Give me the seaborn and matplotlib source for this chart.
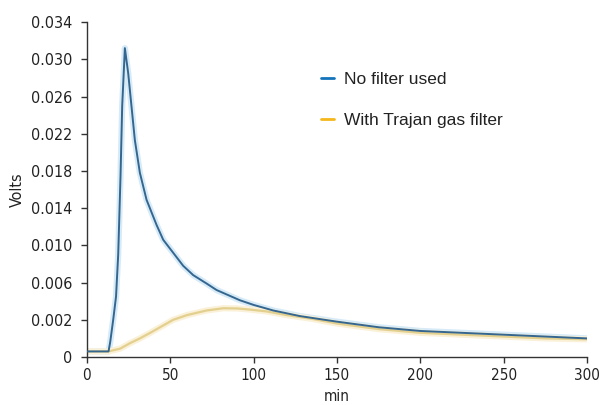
import numpy as np
import pandas as pd
import matplotlib
matplotlib.use("Agg")
import matplotlib.pyplot as plt
from matplotlib.lines import Line2D
import seaborn as sns

# values (minutes, volts)
t_nofilter = [0, 13, 14, 15.8, 17.5, 18.8, 20.2, 21.2, 22.8, 24.8, 26.8, 28.8,
              31.8, 35.8, 41.8, 45.8, 51.8, 57.8, 63.8, 71.8, 77.8, 91.8, 100,
              111.8, 127.8, 150, 175, 200, 225, 250, 275, 300]
v_nofilter = [0.0003, 0.0003, 0.0008, 0.002, 0.0045, 0.009, 0.0175, 0.025,
              0.0312, 0.0285, 0.0249, 0.0213, 0.0178, 0.0149, 0.0122, 0.0106,
              0.0092, 0.0078, 0.0068, 0.0059, 0.0052, 0.0041, 0.0036, 0.003,
              0.0024, 0.0019, 0.0016, 0.0014, 0.0013, 0.0012, 0.0011, 0.001]

t_filter = [0, 13, 20, 26, 31.8, 38, 51.8, 60, 71.8, 81.8, 90, 97.8, 107.8, 120,
            135, 150, 175, 200, 225, 250, 275, 300]
v_filter = [0.0003, 0.0003, 0.00045, 0.00075, 0.001, 0.0013, 0.002, 0.0025,
            0.003, 0.00324, 0.00322, 0.0031, 0.0029, 0.0025, 0.0021, 0.0018,
            0.0015, 0.0013, 0.0012, 0.0011, 0.001, 0.00095]

series_names = ["No filter used", "With Trajan gas filter"]
y_ticks = [0, 0.002, 0.006, 0.010, 0.014, 0.018, 0.022, 0.026, 0.030, 0.034]
y_ticklabels = ["0", "0.002", "0.006", "0.010", "0.014", "0.018", "0.022",
                "0.026", "0.030", "0.034"]
x_ticks = [0, 50, 100, 150, 200, 250, 300]

df = pd.concat([
    pd.DataFrame({"min": t_nofilter, "Volts": v_nofilter, "series": series_names[0]}),
    pd.DataFrame({"min": t_filter, "Volts": v_filter, "series": series_names[1]}),
])

line_colors = {series_names[0]: "#35668f", series_names[1]: "#e3d08f"}
glow_colors = {series_names[0]: "#d6ebf7", series_names[1]: "#faf1d8"}
legend_colors = ["#1474bb", "#f5b719"]

sns.set_style("ticks")
plt.rcParams["font.family"] = ["DejaVu Sans"]
plt.rcParams["font.stretch"] = "condensed"

fig = plt.figure(figsize=(5.99, 4.05), dpi=100)
ax = fig.add_axes([0.145, 0.1185, 0.835, 0.827])


# the tick spacing in the original is uneven (first step 0.002, then 0.004)
def fwd(v):
    v = np.asarray(v, dtype=float)
    return np.where(v < 0.002, v / 0.002, 1 + (v - 0.002) / 0.004)


def inv(f):
    f = np.asarray(f, dtype=float)
    return np.where(f < 1, f * 0.002, 0.002 + (f - 1) * 0.004)


ax.set_yscale("function", functions=(fwd, inv))

# soft halo behind the lines, then the lines
sns.lineplot(data=df, x="min", y="Volts", hue="series", palette=glow_colors,
             linewidth=4.5, ax=ax, legend=False, zorder=1)
sns.lineplot(data=df[df.series == series_names[1]], x="min", y="Volts",
             color=line_colors[series_names[1]], linewidth=1.6, ax=ax,
             legend=False, zorder=2)
sns.lineplot(data=df[df.series == series_names[0]], x="min", y="Volts",
             color=line_colors[series_names[0]], linewidth=1.4, ax=ax,
             legend=False, zorder=3)

ax.set_xlim(0, 300)
ax.set_ylim(0, 0.034)
ax.set_xticks(x_ticks)
ax.set_yticks(y_ticks)
ax.set_yticklabels(y_ticklabels)
ax.minorticks_off()
ax.tick_params(axis="both", length=4.5, width=1, color="#333333",
               labelcolor="#222222")
ax.tick_params(axis="y", pad=6, labelsize=11.5)
ax.tick_params(axis="x", labelsize=11)
for s in ["top", "right"]:
    ax.spines[s].set_visible(False)
for s in ["left", "bottom"]:
    ax.spines[s].set_color("#333333")
    ax.spines[s].set_linewidth(1)

ax.set_xlabel("min", fontsize=11, color="#222222", labelpad=4)
ax.set_ylabel("Volts", fontsize=11.5, color="#222222", labelpad=4)

handles = [Line2D([], [], color=c, linewidth=2) for c in legend_colors]
leg = ax.legend(handles, series_names, loc="upper left",
                bbox_to_anchor=(0.436, 0.897), frameon=False, handlelength=0.75,
                handletextpad=0.6, labelspacing=1.45,
                prop={"family": "Liberation Sans", "size": 12.5,
                      "stretch": "normal"})
for txt in leg.get_texts():
    txt.set_color("#222222")

fig.savefig("out.png", dpi=100)
